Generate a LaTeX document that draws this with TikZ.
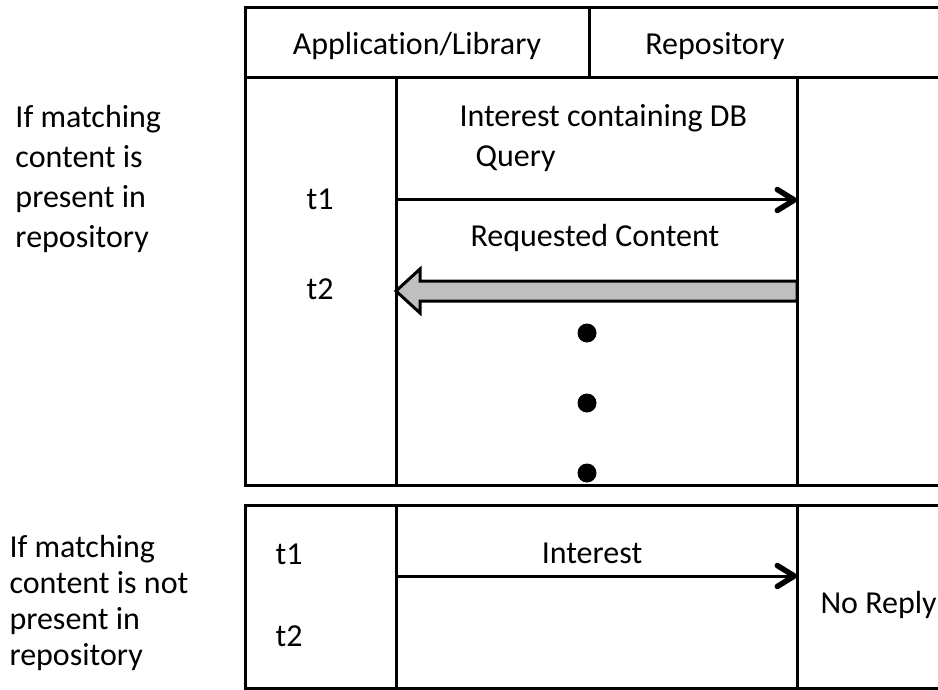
\documentclass[tikz,border=0pt]{standalone}
\usepackage{fontspec}
\setmainfont{Carlito}[Ligatures=NoCommon]
\usetikzlibrary{positioning, calc, arrows.meta}

\begin{document}
\begin{tikzpicture}[x=1pt, y=-1pt, line width=3pt, font=\fontsize{32}{40}\selectfont,
  msg/.style={-{Straight Barb[length=17pt, width=21pt, line width=5.5pt, round]}, line width=3pt},
  fatarrow/.style={fill=black!25, line width=3pt, line join=miter},
  dot/.style={circle, fill=black, inner sep=0pt, minimum size=19pt},
  lbl/.style={inner sep=0pt}]

  \useasboundingbox (0,0) rectangle (938,690);
  \clip (0,0) rectangle (938,690);

  % --- header ---
  \draw (245,8) rectangle (960,78);
  \draw (589,8) -- (589,78);
  \node [lbl, anchor=base] (hApp) at (417,55) {Application/Library};
  \node [lbl, anchor=base] (hRepo) at (715,55) {Repository};

  % --- frames and lifelines ---
  \draw (245,78) rectangle (960,485);
  \draw (245,505) rectangle (960,688);
  \foreach \x in {396,797} {
    \draw (\x,78) -- (\x,485);
    \draw (\x,505) -- (\x,688);
  }

  % --- case 1: content present ---
  \node [lbl, anchor=west, align=left] (case1) at (14,179)
    {If matching\\content is\\present in\\repository};
  \node [lbl] (t1a) at (320,199) {t1};
  \node [lbl] (t2a) at (320,289) {t2};

  \coordinate (appA) at (396,200);
  \coordinate (repoA) at (797,200);
  \coordinate (appB) at (396,291);
  \coordinate (repoB) at (797,291);

  \node [lbl, anchor=base west, align=left] (query) at (458,167)
    {Interest containing DB\\\hspace{16pt}Query};
  \draw [msg] (appA) -- (repoA);

  \node [lbl, anchor=base] (content) at (595,247) {Requested Content};
  \draw [fatarrow] ($(repoB)+(0,-10)$) -- ($(appB)+(24,-10)$) -- ($(appB)+(24,-22)$)
    -- (appB) -- ($(appB)+(24,22)$) -- ($(appB)+(24,10)$) -- ($(repoB)+(0,10)$) -- cycle;

  \node [dot] (d1) at (587,333) {};
  \node [dot] (d2) at (587,403) {};
  \node [dot] (d3) at (587,473) {};

  % --- case 2: content not present ---
  \node [lbl, anchor=west, align=left, font=\fontsize{32}{36}\selectfont] (case2) at (8,603)
    {If matching\\content is not\\present in\\repository};
  \node [lbl] (t1b) at (289,554) {t1};
  \node [lbl] (t2b) at (289,636) {t2};

  \coordinate (appC) at (396,576);
  \coordinate (repoC) at (797,576);
  \node [lbl] (interest) at (592,553) {Interest};
  \draw [msg] (appC) -- (repoC);

  \node [lbl, anchor=west] (noreply) at (819,605) {No Reply};

\end{tikzpicture}
\end{document}
